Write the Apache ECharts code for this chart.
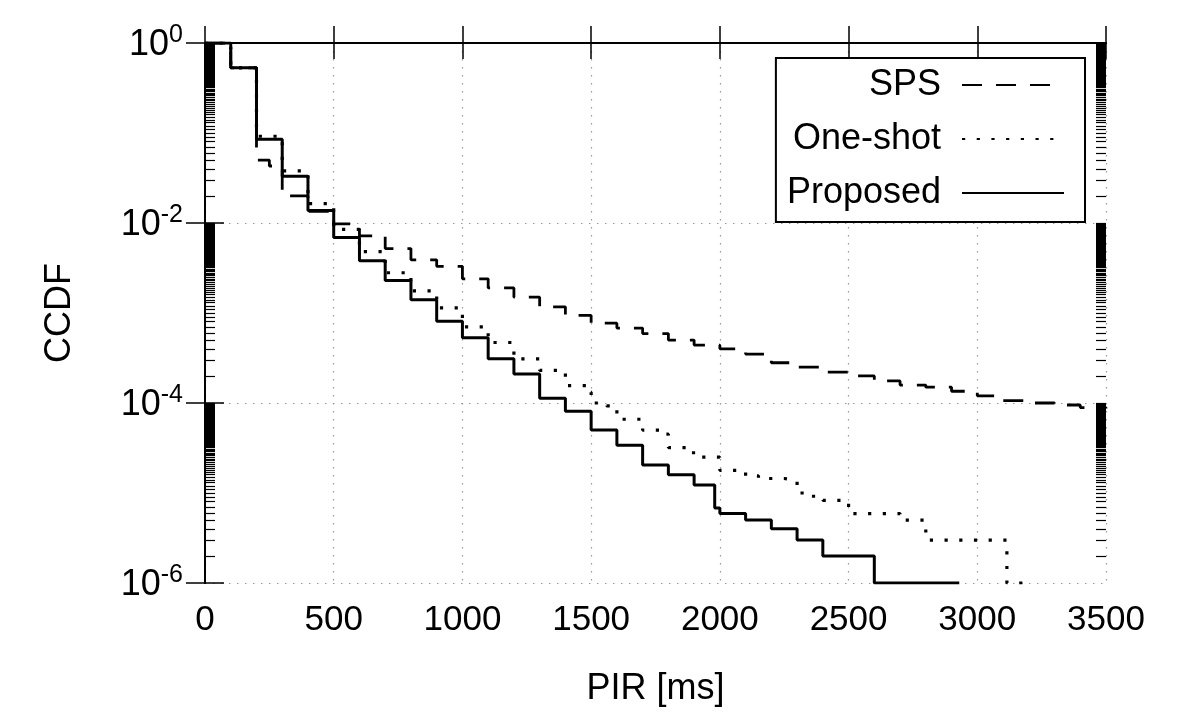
<!DOCTYPE html>
<html>
<head>
<meta charset="utf-8">
<script src="https://cdn.jsdelivr.net/npm/echarts@6/dist/echarts.min.js"></script>
<style>
html,body{margin:0;padding:0;background:#fff;}
#chart{width:1196px;height:718px;}
</style>
</head>
<body>
<div id="chart"></div>
<script>
// ---- data ----
var xTicks = [0, 500, 1000, 1500, 2000, 2500, 3000, 3500];
var seriesNames = ['SPS', 'One-shot', 'Proposed'];

var spsX = [0,100,200,250,300,400,500,600,700,800,900,1000,1100,1200,1300,1400,1500,1600,1700,1800,1900,2000,2100,2200,2300,2400,2500,2600,2700,2800,2900,3000,3100,3200,3300,3400,3500];
var spsY = [1,0.53,0.05,0.043,0.02,0.0135,0.0098,0.0072,0.0052,0.0039,0.0033,0.0024,0.0019,0.0015,0.00117,0.00094,0.00077,0.00068,0.00059,0.0005,0.00044,0.0004,0.00035,0.00028,0.00025,0.00022,0.0002,0.000176,0.000158,0.00015,0.000135,0.00012,0.000106,0.0001,0.000095,0.000089,0.000087];

var oneShotX = [0,100,200,300,400,500,600,700,800,900,1000,1100,1200,1300,1400,1480,1500,1560,1600,1700,1780,1800,1880,1930,2000,2100,2150,2250,2300,2350,2400,2500,2700,2800,3115,3195];
var oneShotY = [1,0.53,0.092,0.038,0.0164,0.0085,0.0048,0.0028,0.00176,0.00114,0.0007,0.00047,0.00031,0.00023,0.000156,0.000132,0.0001,0.000093,0.000066,0.00005,0.000045,0.000032,0.000028,0.000025,0.0000178,0.0000155,0.0000145,0.0000138,0.00001,0.0000092,0.0000083,0.0000059,0.000005,0.000003,0.000001,0.000001];

var proposedX = [0,100,200,300,400,500,600,700,800,900,1000,1100,1200,1300,1400,1500,1600,1700,1800,1900,1980,2000,2100,2200,2300,2400,2600,2930];
var proposedY = [1,0.53,0.085,0.033,0.0138,0.0069,0.0038,0.0023,0.0014,0.00081,0.00053,0.00031,0.00021,0.000113,0.000081,0.00005,0.000034,0.0000205,0.000016,0.0000123,0.0000068,0.0000059,0.000005,0.000004,0.000003,0.000002,0.000001,0.000001];

// ---- helpers ----
function zip(xs, ys) { return xs.map(function (x, i) { return [x, ys[i]]; }); }
var FONT = '"Liberation Sans", Arial, sans-serif';

// minor log tick positions (k x 10^e for each two-decade band), in log10 space
var minorTickPos = [];
[-6, -4, -2].forEach(function (e) {
  for (var k = 2; k <= 99; k++) minorTickPos.push(Math.log10(k) + e);
});

var chart = echarts.init(document.getElementById('chart'), null, {renderer: 'canvas'});

var gridLine = {show: true, lineStyle: {color: '#9a9a9a', width: 1.2, type: [1.5, 6.5]}};
var blackLine = {show: true, lineStyle: {color: '#000', width: 2}};

var option = {
  animation: false,
  backgroundColor: '#fff',
  textStyle: {fontFamily: FONT},
  grid: {left: 205, right: 90, top: 43, bottom: 135},
  legend: {
    orient: 'vertical',
    right: 111,
    top: 58,
    align: 'right',
    itemWidth: 102,
    itemHeight: 14,
    itemGap: 18,
    padding: [9, 20, 11, 11],
    borderColor: '#000',
    borderWidth: 2,
    borderRadius: 0,
    backgroundColor: '#fff',
    itemStyle: {opacity: 0, borderWidth: 0},
    textStyle: {fontSize: 36, color: '#000', fontFamily: FONT, padding: [0, 16, 0, 0]},
    data: seriesNames
  },
  xAxis: [
    {
      type: 'value', position: 'bottom', min: xTicks[0], max: xTicks[xTicks.length - 1], interval: 500,
      axisLine: blackLine,
      axisTick: {show: true, inside: true, length: 17, lineStyle: {color: '#000', width: 1.5}},
      axisLabel: {show: true, fontSize: 35, color: '#000', margin: 20, fontFamily: FONT,
        formatter: function (v) { return String(v); }},
      splitLine: gridLine,
      name: 'PIR [ms]', nameLocation: 'middle', nameGap: 88,
      nameTextStyle: {fontSize: 36, color: '#000', fontFamily: FONT}
    },
    {
      type: 'value', position: 'top', min: xTicks[0], max: xTicks[xTicks.length - 1], interval: 500,
      axisLine: blackLine,
      axisTick: {show: true, inside: true, length: 16, lineStyle: {color: '#000', width: 1.5}},
      axisLabel: {show: false},
      splitLine: {show: false}
    }
  ],
  yAxis: [
    {
      type: 'log', logBase: 100, min: 1e-6, max: 1, position: 'left',
      axisLine: blackLine,
      axisTick: {show: true, inside: true, length: 19, lineStyle: {color: '#000', width: 1.5}},
      axisLabel: {
        show: true, margin: 22, color: '#000',
        formatter: function (v) {
          var e = Math.round(Math.log10(v));
          return '{b|10}{s|' + e + '}';
        },
        rich: {
          b: {fontSize: 36, lineHeight: 40, color: '#000', fontFamily: FONT, verticalAlign: 'bottom'},
          s: {fontSize: 25, lineHeight: 24, color: '#000', fontFamily: FONT, verticalAlign: 'top'}
        }
      },
      splitLine: gridLine,
      minorTick: {show: false},
      name: 'CCDF', nameLocation: 'middle', nameGap: 127,
      nameTextStyle: {fontSize: 36, color: '#000', fontFamily: FONT}
    },
    {
      type: 'log', logBase: 100, min: 1e-6, max: 1, position: 'right',
      axisLine: blackLine,
      axisTick: {show: true, inside: true, length: 19, lineStyle: {color: '#000', width: 1.5}},
      axisLabel: {show: false},
      splitLine: {show: false}
    },
    {
      type: 'value', min: -6, max: 0, position: 'left',
      axisLine: {show: false},
      axisTick: {show: true, inside: true, length: 10, customValues: minorTickPos, lineStyle: {color: '#000', width: 1.2}},
      axisLabel: {show: false},
      splitLine: {show: false}
    },
    {
      type: 'value', min: -6, max: 0, position: 'right',
      axisLine: {show: false},
      axisTick: {show: true, inside: true, length: 10, customValues: minorTickPos, lineStyle: {color: '#000', width: 1.2}},
      axisLabel: {show: false},
      splitLine: {show: false}
    }
  ],
  series: [
    {
      name: seriesNames[0], type: 'line', step: 'end', symbol: 'none', showSymbol: false,
      xAxisIndex: 0, yAxisIndex: 0,
      lineStyle: {color: '#000', width: 2.8, type: [20, 14]},
      itemStyle: {color: '#000'},
      data: zip(spsX, spsY), z: 2
    },
    {
      name: seriesNames[1], type: 'line', step: 'end', symbol: 'none', showSymbol: false,
      xAxisIndex: 0, yAxisIndex: 0,
      lineStyle: {color: '#000', width: 3.2, type: [3.2, 11.5]},
      itemStyle: {color: '#000'},
      data: zip(oneShotX, oneShotY), z: 3
    },
    {
      name: seriesNames[2], type: 'line', step: 'end', symbol: 'none', showSymbol: false,
      xAxisIndex: 0, yAxisIndex: 0,
      lineStyle: {color: '#000', width: 3, type: 'solid'},
      itemStyle: {color: '#000'},
      data: zip(proposedX, proposedY), z: 4
    }
  ]
};
chart.setOption(option);
</script>
</body>
</html>
